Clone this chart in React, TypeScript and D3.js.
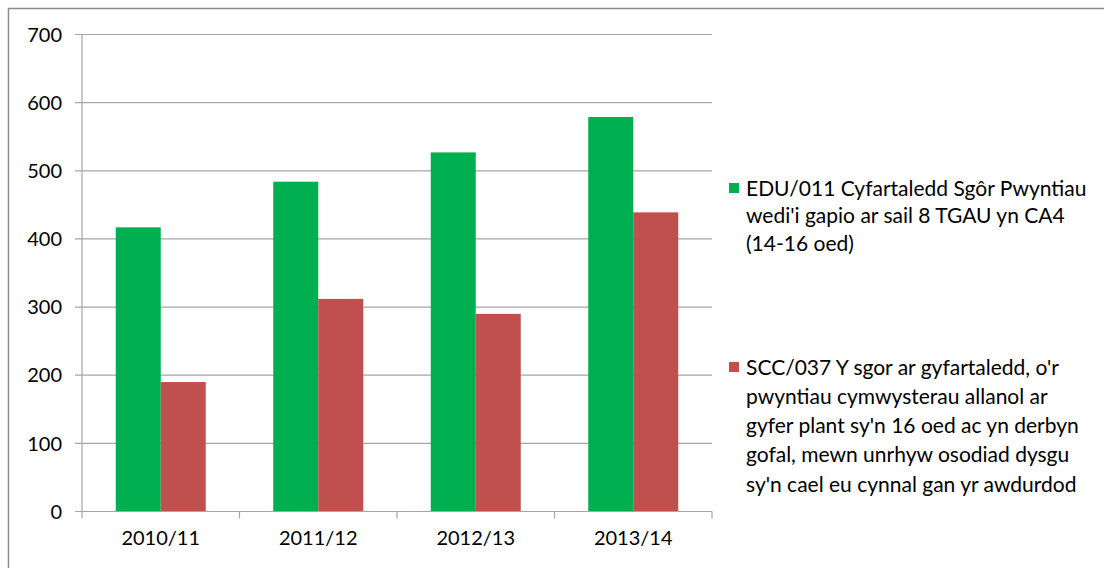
import React, { useRef, useEffect } from 'react';
import * as d3 from 'd3';

// chart values
const categories = ['2010/11', '2011/12', '2012/13', '2013/14'];
const eduValues = [417, 484, 527, 579];
const sccValues = [190, 312, 290, 439];
const yTicks = [0, 100, 200, 300, 400, 500, 600, 700];
const eduLegend = [
  'EDU/011 Cyfartaledd Sgôr Pwyntiau',
  "wedi'i gapio ar sail 8 TGAU yn CA4",
  '(14-16 oed)',
];
const sccLegend = [
  "SCC/037 Y sgor ar gyfartaledd, o'r",
  'pwyntiau cymwysterau allanol ar',
  "gyfer plant sy'n 16 oed ac yn derbyn",
  'gofal, mewn unrhyw osodiad dysgu',
  "sy'n cael eu cynnal gan yr awdurdod",
];

const App = () => {
  const svgRef = useRef<SVGSVGElement>(null);

  useEffect(() => {
    d3.select(svgRef.current).selectAll('*').remove();

    const width = 1104;
    const height = 568;
    const plot = { left: 82, right: 712, top: 34.5, bottom: 511.5 };
    const font = 'Lato, "Open Sans", sans-serif';

    const svg = d3
      .select(svgRef.current)
      .attr('width', width)
      .attr('height', height);

    svg
      .append('rect')
      .attr('width', width)
      .attr('height', height)
      .attr('fill', '#fff');

    // outer chart border
    svg
      .append('path')
      .attr('d', `M8.5,${height} V8.5 H${width}`)
      .attr('fill', 'none')
      .attr('stroke', '#8c8c8c')
      .attr('stroke-width', 1.5);

    const x = d3
      .scaleBand()
      .domain(categories)
      .range([plot.left, plot.right])
      .paddingInner(0)
      .paddingOuter(0);

    const y = d3
      .scaleLinear()
      .domain([0, 700])
      .range([plot.bottom, plot.top]);

    // gridlines
    svg
      .append('g')
      .selectAll('line')
      .data(yTicks.filter((d) => d > 0))
      .enter()
      .append('line')
      .attr('x1', plot.left - 7)
      .attr('x2', plot.right)
      .attr('y1', (d) => y(d))
      .attr('y2', (d) => y(d))
      .attr('stroke', '#a6a6a6')
      .attr('stroke-width', 1.2);

    // y labels
    svg
      .append('g')
      .selectAll('text')
      .data(yTicks)
      .enter()
      .append('text')
      .attr('x', 62)
      .attr('y', (d) => y(d))
      .attr('dy', '0.36em')
      .attr('text-anchor', 'end')
      .style('font-family', font)
      .style('font-size', '20px')
      .attr('fill', '#000')
      .text((d) => d);

    // bars
    const barW = 45;
    const groups = svg
      .append('g')
      .selectAll('g')
      .data(categories)
      .enter()
      .append('g');

    groups
      .append('rect')
      .attr('x', (d) => x(d)! + x.bandwidth() / 2 - barW)
      .attr('y', (_, i) => y(eduValues[i]))
      .attr('width', barW)
      .attr('height', (_, i) => plot.bottom - y(eduValues[i]))
      .attr('fill', '#00b050');

    groups
      .append('rect')
      .attr('x', (d) => x(d)! + x.bandwidth() / 2)
      .attr('y', (_, i) => y(sccValues[i]))
      .attr('width', barW)
      .attr('height', (_, i) => plot.bottom - y(sccValues[i]))
      .attr('fill', '#c0504d');

    // axes lines
    svg
      .append('line')
      .attr('x1', plot.left)
      .attr('x2', plot.left)
      .attr('y1', plot.top)
      .attr('y2', plot.bottom + 7)
      .attr('stroke', '#a6a6a6')
      .attr('stroke-width', 1.2);

    svg
      .append('line')
      .attr('x1', plot.left - 7)
      .attr('x2', plot.right)
      .attr('y1', plot.bottom)
      .attr('y2', plot.bottom)
      .attr('stroke', '#a6a6a6')
      .attr('stroke-width', 1.2);

    // x tick marks at category boundaries
    svg
      .append('g')
      .selectAll('line')
      .data(categories)
      .enter()
      .append('line')
      .attr('x1', (d) => x(d)! + x.bandwidth())
      .attr('x2', (d) => x(d)! + x.bandwidth())
      .attr('y1', plot.bottom)
      .attr('y2', plot.bottom + 7)
      .attr('stroke', '#a6a6a6')
      .attr('stroke-width', 1.2);

    // x labels
    svg
      .append('g')
      .selectAll('text')
      .data(categories)
      .enter()
      .append('text')
      .attr('x', (d) => x(d)! + x.bandwidth() / 2)
      .attr('y', 538)
      .attr('dy', '0.36em')
      .attr('text-anchor', 'middle')
      .style('font-family', font)
      .style('font-size', '20px')
      .attr('fill', '#000')
      .text((d) => d);

    // legend
    const legends = [
      { lines: eduLegend, color: '#00b050', top: 188, step: 27.5 },
      { lines: sccLegend, color: '#c0504d', top: 367, step: 29.3 },
    ];
    legends.forEach((lg) => {
      svg
        .append('rect')
        .attr('x', 729)
        .attr('y', lg.top - 5)
        .attr('width', 10)
        .attr('height', 10)
        .attr('fill', lg.color);
      svg
        .append('g')
        .selectAll('text')
        .data(lg.lines)
        .enter()
        .append('text')
        .attr('x', 746)
        .attr('y', (_, i) => lg.top + i * lg.step)
        .attr('dy', '0.36em')
        .style('font-family', font)
        .style('font-size', '21px')
        .attr('fill', '#000')
        .text((d) => d);
    });
  }, []);

  return (
    <svg
      ref={svgRef}
      style={{ position: 'absolute', left: 0, top: 0, display: 'block' }}
    />
  );
};

export default App;
